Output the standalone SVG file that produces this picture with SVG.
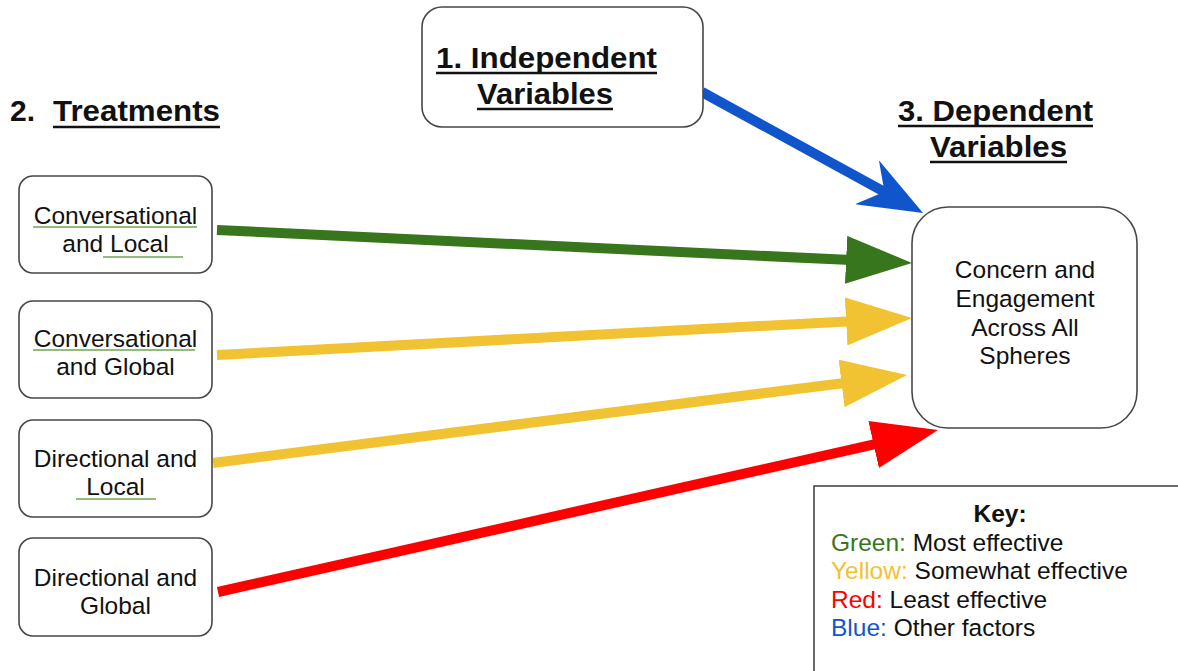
<svg xmlns="http://www.w3.org/2000/svg" width="1178" height="671" viewBox="0 0 1178 671">
  <style>
    .box { fill: #ffffff; stroke: #474747; stroke-width: 1.6; }
    .lbl { font-family: "Liberation Sans", Arial, sans-serif; font-size: 24.5px; fill: #111111; text-anchor: middle; }
    .head { font-family: "Liberation Sans", Arial, sans-serif; font-size: 30px; font-weight: bold; fill: #111111; }
    .uline { stroke: #111111; stroke-width: 2.4; }
    .spell { stroke: #6aa84f; stroke-width: 1.6; }
    .key { font-family: "Liberation Sans", Arial, sans-serif; font-size: 24.5px; fill: #111111; }
    .shaft { fill: none; stroke-width: 10; stroke-linecap: butt; }
    .g { stroke: #38761d; } .y { stroke: #f1c232; } .r { stroke: #ff0000; } .b { stroke: #1155cc; }
  </style>
  <defs>
    <marker id="headGreen" markerUnits="userSpaceOnUse" viewBox="0 0 66 48" markerWidth="66" markerHeight="48" refX="5" refY="24" orient="auto">
      <path d="M0,0 L66,24 L0,48 z" fill="#38761d"/>
    </marker>
    <marker id="headYellow" markerUnits="userSpaceOnUse" viewBox="0 0 66 48" markerWidth="66" markerHeight="48" refX="5" refY="24" orient="auto">
      <path d="M0,0 L66,24 L0,48 z" fill="#f1c232"/>
    </marker>
    <marker id="headRed" markerUnits="userSpaceOnUse" viewBox="0 0 66 48" markerWidth="66" markerHeight="48" refX="5" refY="24" orient="auto">
      <path d="M0,0 L66,24 L0,48 z" fill="#ff0000"/>
    </marker>
    <marker id="headBlue" markerUnits="userSpaceOnUse" viewBox="0 0 64 50" markerWidth="64" markerHeight="50" refX="22" refY="25" orient="auto">
      <path d="M0,0 L64,25 L0,50 L20,25 z" fill="#1155cc"/>
    </marker>
  </defs>

  <rect width="1178" height="671" fill="#ffffff"/>

  <!-- section headings -->
  <g id="heading-treatments">
    <text class="head" x="10" y="121">2.</text>
    <text class="head" x="53" y="121" textLength="167" lengthAdjust="spacingAndGlyphs">Treatments</text>
    <line class="uline" x1="53" y1="127" x2="220" y2="127"/>
  </g>
  <g id="heading-dependent">
    <text class="head" x="898" y="121" textLength="195" lengthAdjust="spacingAndGlyphs">3. Dependent</text>
    <line class="uline" x1="898" y1="126" x2="1093" y2="126"/>
    <text class="head" x="930" y="157" textLength="137" lengthAdjust="spacingAndGlyphs">Variables</text>
    <line class="uline" x1="930" y1="162" x2="1067" y2="162"/>
  </g>

  <!-- connectors -->
  <g id="connectors">
    <line class="shaft b" x1="702" y1="92" x2="886.2" y2="192.8" marker-end="url(#headBlue)"/>
    <line class="shaft g" x1="217" y1="230" x2="851.1" y2="260.1" marker-end="url(#headGreen)"/>
    <line class="shaft y" x1="217" y1="355" x2="851.1" y2="321.2" marker-end="url(#headYellow)"/>
    <line class="shaft y" x1="213" y1="463" x2="846.5" y2="382.7" marker-end="url(#headYellow)"/>
    <line class="shaft r" x1="218" y1="592" x2="878.5" y2="443.4" marker-end="url(#headRed)"/>
  </g>

  <!-- independent variables -->
  <g id="node-independent">
    <rect class="box" x="422" y="7" width="281" height="120" rx="20"/>
    <text class="head" x="436" y="68" textLength="221" lengthAdjust="spacingAndGlyphs">1. Independent</text>
    <line class="uline" x1="436" y1="73" x2="657" y2="73"/>
    <text class="head" x="477" y="104" textLength="136" lengthAdjust="spacingAndGlyphs">Variables</text>
    <line class="uline" x1="477" y1="109" x2="613" y2="109"/>
  </g>

  <!-- treatments -->
  <g id="node-conv-local">
    <rect class="box" x="19" y="176" width="193" height="97" rx="14"/>
    <text class="lbl" x="115.5" y="224">Conversational</text>
    <text class="lbl" x="115.5" y="252">and Local</text>
    <line class="spell" x1="33" y1="227" x2="197" y2="227"/>
    <line class="spell" x1="103" y1="257" x2="183" y2="257"/>
  </g>
  <g id="node-conv-global">
    <rect class="box" x="19" y="301" width="193" height="97" rx="14"/>
    <text class="lbl" x="115.5" y="347">Conversational</text>
    <text class="lbl" x="115.5" y="375">and Global</text>
    <line class="spell" x1="33" y1="350" x2="195" y2="350"/>
  </g>
  <g id="node-dir-local">
    <rect class="box" x="19" y="420" width="193" height="97" rx="14"/>
    <text class="lbl" x="115.5" y="467">Directional and</text>
    <text class="lbl" x="115.5" y="495">Local</text>
    <line class="spell" x1="76" y1="499" x2="156" y2="499"/>
  </g>
  <g id="node-dir-global">
    <rect class="box" x="19" y="538" width="193" height="98" rx="14"/>
    <text class="lbl" x="115.5" y="586">Directional and</text>
    <text class="lbl" x="115.5" y="614">Global</text>
  </g>

  <!-- dependent variable -->
  <g id="node-concern">
    <rect class="box" x="912" y="207" width="225" height="221" rx="36"/>
    <text class="lbl" x="1025" y="278">Concern and</text>
    <text class="lbl" x="1025" y="307">Engagement</text>
    <text class="lbl" x="1025" y="336">Across All</text>
    <text class="lbl" x="1025" y="364">Spheres</text>
  </g>

  <!-- colour key -->
  <g id="key">
    <rect x="814" y="486" width="420" height="260" fill="#ffffff" stroke="#474747" stroke-width="1.6"/>
    <text class="key" x="1000" y="522" text-anchor="middle" font-weight="bold">Key:</text>
    <text class="key" x="831" y="551"><tspan fill="#38761d">Green:</tspan> Most effective</text>
    <text class="key" x="831" y="579"><tspan fill="#f1c232">Yellow:</tspan> Somewhat effective</text>
    <text class="key" x="831" y="608"><tspan fill="#ff0000">Red:</tspan> Least effective</text>
    <text class="key" x="831" y="636"><tspan fill="#1155cc">Blue:</tspan> Other factors</text>
  </g>
</svg>
